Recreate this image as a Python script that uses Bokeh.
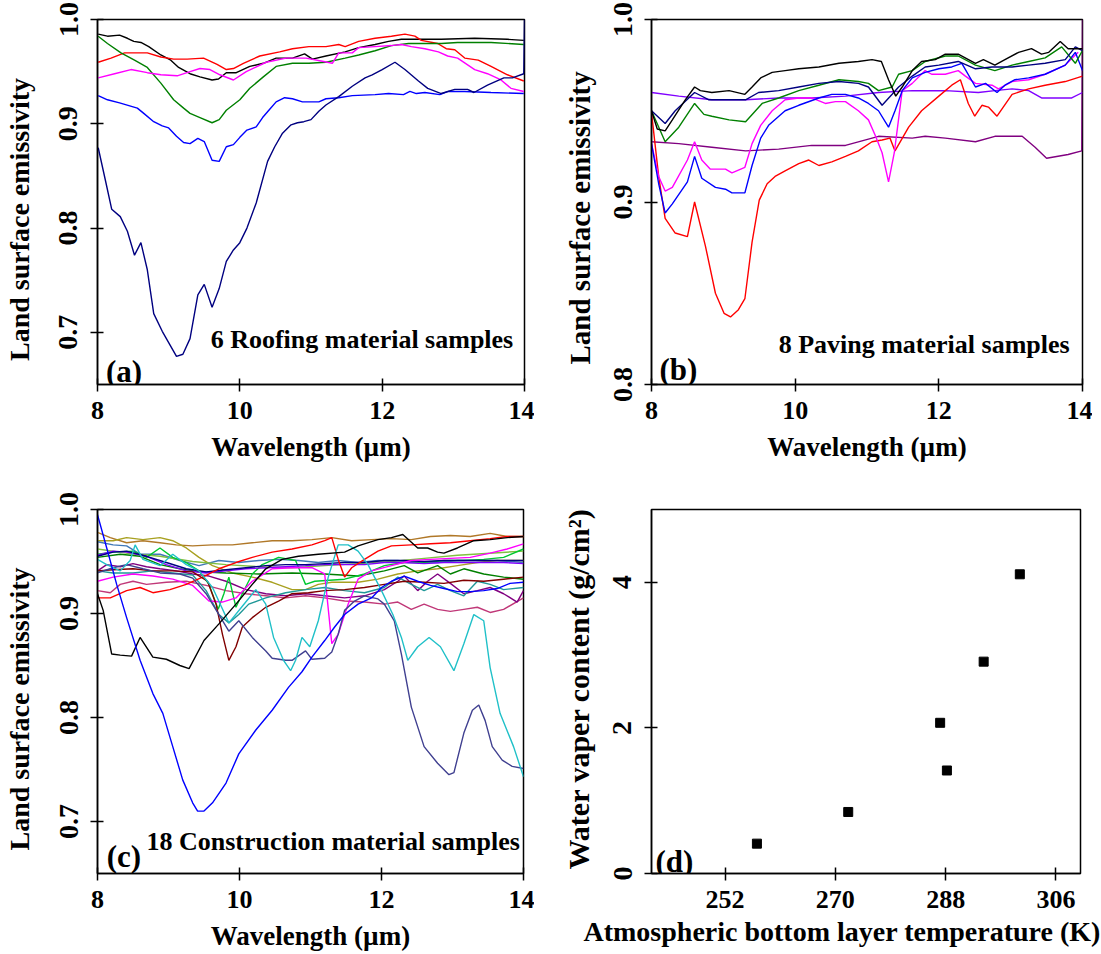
from bokeh.plotting import figure
from bokeh.layouts import column, row
from bokeh.models import Range1d, FixedTicker, Label, Title, PrintfTickFormatter
from bokeh.embed import file_html
from bokeh.resources import INLINE

FONT = "Liberation Serif"

# ---------------- Panel (a): 6 roofing material samples ----------------
a_black_x = [8.01, 8.14, 8.31, 8.42, 8.51, 8.61, 8.72, 8.89, 9.03, 9.14, 9.30, 9.44, 9.61, 9.70, 9.81, 9.95, 10.14, 10.33, 10.51, 10.74, 10.91, 11.02, 11.21, 11.48, 11.67, 11.90, 12.09, 12.27, 12.51, 12.83, 13.30, 13.76, 13.99]
a_black_y = [0.986, 0.984, 0.985, 0.982, 0.979, 0.978, 0.974, 0.966, 0.961, 0.954, 0.948, 0.945, 0.942, 0.943, 0.949, 0.949, 0.955, 0.958, 0.963, 0.963, 0.967, 0.962, 0.965, 0.969, 0.973, 0.976, 0.979, 0.981, 0.981, 0.981, 0.982, 0.981, 0.980]
a_red_x = [8.01, 8.19, 8.38, 8.52, 8.70, 8.89, 9.07, 9.26, 9.49, 9.68, 9.81, 9.91, 10.05, 10.28, 10.56, 10.74, 10.97, 11.21, 11.39, 11.48, 11.67, 11.90, 12.13, 12.32, 12.46, 12.55, 12.78, 12.90, 13.02, 13.16, 13.35, 13.53, 13.76, 13.99]
a_red_y = [0.959, 0.963, 0.968, 0.968, 0.968, 0.964, 0.962, 0.962, 0.963, 0.957, 0.952, 0.953, 0.958, 0.965, 0.969, 0.972, 0.974, 0.974, 0.976, 0.974, 0.979, 0.982, 0.984, 0.986, 0.984, 0.980, 0.977, 0.972, 0.971, 0.963, 0.961, 0.955, 0.947, 0.941]
a_green_x = [8.01, 8.14, 8.33, 8.52, 8.70, 8.89, 9.07, 9.21, 9.30, 9.44, 9.61, 9.71, 9.81, 10.00, 10.14, 10.33, 10.51, 10.74, 10.97, 11.21, 11.48, 11.67, 11.90, 12.13, 12.37, 12.60, 12.83, 13.06, 13.53, 13.99]
a_green_y = [0.984, 0.977, 0.968, 0.961, 0.954, 0.939, 0.923, 0.915, 0.910, 0.906, 0.901, 0.904, 0.913, 0.923, 0.934, 0.945, 0.955, 0.958, 0.958, 0.959, 0.963, 0.966, 0.970, 0.975, 0.977, 0.977, 0.977, 0.978, 0.978, 0.976]
a_magenta_x = [8.01, 8.24, 8.47, 8.70, 8.89, 9.12, 9.30, 9.44, 9.58, 9.72, 9.91, 10.09, 10.37, 10.65, 10.93, 11.16, 11.30, 11.39, 11.58, 11.67, 11.90, 12.13, 12.27, 12.41, 12.60, 12.79, 12.92, 13.06, 13.30, 13.48, 13.67, 13.81, 13.99]
a_magenta_y = [0.944, 0.948, 0.952, 0.949, 0.947, 0.946, 0.950, 0.953, 0.952, 0.947, 0.942, 0.950, 0.959, 0.963, 0.963, 0.960, 0.958, 0.968, 0.968, 0.973, 0.974, 0.975, 0.976, 0.974, 0.972, 0.969, 0.965, 0.963, 0.952, 0.948, 0.942, 0.934, 0.931]
a_blue_x = [8.01, 8.14, 8.31, 8.56, 8.65, 8.79, 8.91, 9.00, 9.11, 9.21, 9.30, 9.41, 9.50, 9.61, 9.71, 9.81, 9.91, 10.00, 10.10, 10.23, 10.32, 10.42, 10.51, 10.63, 10.74, 10.88, 11.11, 11.21, 11.39, 11.58, 11.90, 12.09, 12.30, 12.39, 12.48, 12.60, 12.81, 12.93, 13.16, 13.53, 13.99]
a_blue_y = [0.927, 0.923, 0.920, 0.915, 0.910, 0.902, 0.898, 0.896, 0.888, 0.882, 0.881, 0.886, 0.883, 0.865, 0.864, 0.878, 0.880, 0.887, 0.894, 0.897, 0.906, 0.914, 0.921, 0.925, 0.924, 0.921, 0.921, 0.924, 0.925, 0.927, 0.928, 0.929, 0.928, 0.931, 0.929, 0.930, 0.928, 0.931, 0.931, 0.930, 0.929]
a_navy_x = [8.01, 8.12, 8.20, 8.32, 8.42, 8.52, 8.61, 8.70, 8.79, 8.91, 9.11, 9.20, 9.30, 9.41, 9.50, 9.61, 9.71, 9.81, 9.91, 10.00, 10.10, 10.23, 10.39, 10.49, 10.60, 10.72, 10.81, 10.90, 11.00, 11.11, 11.21, 11.39, 11.58, 11.76, 11.86, 12.00, 12.18, 12.32, 12.51, 12.64, 12.83, 13.02, 13.20, 13.29, 13.48, 13.71, 13.83, 13.99, 14.0]
a_navy_y = [0.877, 0.843, 0.818, 0.811, 0.797, 0.774, 0.786, 0.760, 0.718, 0.701, 0.677, 0.679, 0.694, 0.736, 0.746, 0.724, 0.742, 0.768, 0.779, 0.786, 0.800, 0.824, 0.864, 0.878, 0.891, 0.899, 0.901, 0.902, 0.904, 0.912, 0.918, 0.926, 0.936, 0.944, 0.947, 0.952, 0.959, 0.952, 0.941, 0.934, 0.929, 0.933, 0.933, 0.930, 0.937, 0.944, 0.944, 0.948, 1.0]

# ---------------- Panel (b): 8 paving material samples ----------------
b_black_x = [8.00, 8.08, 8.19, 8.29, 8.47, 8.60, 8.68, 8.84, 9.08, 9.30, 9.40, 9.52, 9.68, 9.86, 10.05, 10.33, 10.61, 10.88, 11.07, 11.20, 11.30, 11.40, 11.49, 11.63, 11.76, 11.95, 12.09, 12.27, 12.51, 12.62, 12.78, 12.92, 13.11, 13.29, 13.43, 13.53, 13.69, 13.80, 13.94, 14.00]
b_black_y = [0.950, 0.940, 0.939, 0.945, 0.956, 0.963, 0.961, 0.960, 0.961, 0.959, 0.963, 0.968, 0.971, 0.972, 0.973, 0.974, 0.976, 0.977, 0.978, 0.977, 0.967, 0.958, 0.963, 0.972, 0.977, 0.978, 0.981, 0.981, 0.976, 0.978, 0.975, 0.978, 0.982, 0.984, 0.981, 0.982, 0.988, 0.984, 0.984, 0.984]
b_navy_x = [8.00, 8.19, 8.33, 8.60, 8.80, 9.08, 9.31, 9.49, 9.77, 10.05, 10.33, 10.61, 10.88, 11.02, 11.21, 11.35, 11.44, 11.63, 11.81, 12.00, 12.27, 12.51, 12.74, 13.02, 13.25, 13.48, 13.76, 13.90, 14.00]
b_navy_y = [0.950, 0.943, 0.950, 0.960, 0.956, 0.956, 0.956, 0.960, 0.961, 0.963, 0.965, 0.966, 0.965, 0.963, 0.953, 0.959, 0.963, 0.969, 0.974, 0.975, 0.977, 0.973, 0.974, 0.974, 0.975, 0.976, 0.978, 0.985, 0.983]
b_green_x = [8.00, 8.19, 8.38, 8.60, 8.73, 8.84, 9.08, 9.31, 9.54, 9.77, 10.05, 10.33, 10.61, 10.88, 11.02, 11.16, 11.35, 11.44, 11.63, 11.81, 12.09, 12.27, 12.51, 12.78, 13.02, 13.25, 13.48, 13.71, 13.90, 14.00]
b_green_y = [0.950, 0.933, 0.941, 0.954, 0.948, 0.947, 0.945, 0.944, 0.954, 0.957, 0.961, 0.964, 0.967, 0.966, 0.965, 0.961, 0.963, 0.970, 0.972, 0.977, 0.980, 0.980, 0.975, 0.972, 0.975, 0.977, 0.979, 0.985, 0.976, 0.983]
b_violet_x = [8.00, 8.38, 8.84, 9.31, 9.77, 10.23, 10.70, 11.16, 11.63, 12.09, 12.55, 12.78, 13.02, 13.25, 13.43, 13.67, 13.85, 14.00]
b_violet_y = [0.960, 0.958, 0.956, 0.956, 0.957, 0.957, 0.958, 0.960, 0.961, 0.961, 0.960, 0.961, 0.962, 0.961, 0.957, 0.957, 0.957, 0.960]
b_blue_x = [8.00, 8.10, 8.19, 8.29, 8.50, 8.60, 8.70, 8.89, 9.03, 9.12, 9.30, 9.40, 9.52, 9.63, 9.86, 10.05, 10.33, 10.51, 10.70, 10.88, 11.02, 11.16, 11.30, 11.39, 11.49, 11.63, 11.81, 12.00, 12.18, 12.32, 12.51, 12.65, 12.81, 12.92, 13.06, 13.25, 13.48, 13.76, 13.90, 14.00]
b_blue_y = [0.932, 0.910, 0.894, 0.899, 0.911, 0.925, 0.913, 0.908, 0.907, 0.905, 0.905, 0.920, 0.935, 0.942, 0.950, 0.953, 0.957, 0.959, 0.959, 0.957, 0.954, 0.950, 0.941, 0.950, 0.961, 0.968, 0.971, 0.973, 0.974, 0.976, 0.963, 0.965, 0.960, 0.964, 0.967, 0.968, 0.970, 0.975, 0.982, 0.972]
b_magenta_x = [8.00, 8.10, 8.19, 8.29, 8.50, 8.60, 8.70, 8.82, 9.03, 9.12, 9.30, 9.40, 9.52, 9.68, 9.86, 10.05, 10.23, 10.42, 10.56, 10.70, 10.88, 11.02, 11.12, 11.21, 11.30, 11.38, 11.49, 11.63, 11.81, 11.90, 12.09, 12.27, 12.37, 12.51, 12.74, 12.83, 13.02, 13.25, 13.48, 13.76, 13.94]
b_magenta_y = [0.932, 0.914, 0.906, 0.908, 0.923, 0.933, 0.923, 0.918, 0.918, 0.916, 0.919, 0.932, 0.942, 0.950, 0.956, 0.957, 0.957, 0.954, 0.955, 0.955, 0.950, 0.945, 0.936, 0.927, 0.911, 0.927, 0.961, 0.965, 0.972, 0.970, 0.970, 0.972, 0.969, 0.965, 0.964, 0.962, 0.966, 0.967, 0.970, 0.975, 0.982]
b_red_x = [8.00, 8.10, 8.19, 8.33, 8.50, 8.60, 8.75, 8.89, 9.01, 9.10, 9.21, 9.30, 9.40, 9.50, 9.61, 9.72, 9.86, 10.05, 10.19, 10.33, 10.51, 10.70, 10.88, 11.07, 11.21, 11.32, 11.39, 11.58, 11.76, 12.00, 12.18, 12.30, 12.41, 12.50, 12.60, 12.69, 12.81, 13.02, 13.25, 13.48, 13.76, 14.00]
b_red_y = [0.949, 0.914, 0.891, 0.883, 0.881, 0.900, 0.876, 0.850, 0.839, 0.837, 0.841, 0.847, 0.878, 0.901, 0.910, 0.914, 0.917, 0.921, 0.923, 0.920, 0.922, 0.925, 0.928, 0.933, 0.934, 0.935, 0.928, 0.941, 0.950, 0.958, 0.964, 0.967, 0.954, 0.947, 0.953, 0.952, 0.947, 0.959, 0.962, 0.964, 0.966, 0.969]
b_purple_x = [8.00, 8.38, 8.84, 9.31, 9.77, 10.23, 10.70, 11.16, 11.63, 11.81, 12.09, 12.51, 12.78, 13.16, 13.34, 13.50, 13.80, 13.99, 14.00]
b_purple_y = [0.933, 0.932, 0.930, 0.928, 0.929, 0.931, 0.931, 0.936, 0.935, 0.936, 0.935, 0.933, 0.936, 0.936, 0.930, 0.924, 0.926, 0.928, 1.000]

# ---------------- Panel (c): 18 construction material samples ----------------
c_blue_x = [8.00, 8.13, 8.27, 8.41, 8.60, 8.78, 8.92, 9.06, 9.20, 9.34, 9.41, 9.50, 9.62, 9.81, 9.99, 10.23, 10.46, 10.69, 10.88, 11.02, 11.20, 11.34, 11.48, 11.67, 11.86, 12.00, 12.14, 12.32, 12.51, 12.69, 12.88, 13.07, 13.25, 13.44, 13.63, 13.81, 14.00]
c_blue_y = [0.995, 0.963, 0.928, 0.896, 0.855, 0.823, 0.804, 0.772, 0.740, 0.718, 0.710, 0.710, 0.718, 0.737, 0.765, 0.788, 0.807, 0.829, 0.844, 0.858, 0.874, 0.887, 0.899, 0.909, 0.915, 0.925, 0.931, 0.936, 0.931, 0.927, 0.924, 0.921, 0.921, 0.922, 0.924, 0.929, 0.930]
c_black_x = [8.00, 8.08, 8.20, 8.32, 8.48, 8.60, 8.78, 8.97, 9.16, 9.29, 9.50, 9.71, 9.95, 10.18, 10.37, 10.60, 10.83, 11.11, 11.48, 11.67, 11.95, 12.14, 12.30, 12.51, 12.65, 12.79, 12.88, 13.07, 13.30, 13.53, 13.77, 14.00]
c_black_y = [0.919, 0.903, 0.861, 0.860, 0.859, 0.877, 0.858, 0.856, 0.850, 0.847, 0.874, 0.890, 0.909, 0.928, 0.943, 0.952, 0.955, 0.957, 0.959, 0.965, 0.971, 0.973, 0.976, 0.963, 0.963, 0.959, 0.958, 0.963, 0.970, 0.971, 0.973, 0.974]
c_slate_x = [8.00, 8.22, 8.41, 8.64, 8.88, 9.16, 9.34, 9.53, 9.71, 9.85, 9.99, 10.18, 10.37, 10.46, 10.65, 10.74, 10.93, 11.02, 11.20, 11.30, 11.39, 11.48, 11.62, 11.76, 11.95, 12.04, 12.18, 12.28, 12.42, 12.60, 12.79, 12.95, 13.02, 13.16, 13.28, 13.37, 13.46, 13.56, 13.70, 13.84, 14.00]
c_slate_y = [0.939, 0.944, 0.947, 0.943, 0.939, 0.938, 0.934, 0.919, 0.899, 0.883, 0.893, 0.877, 0.864, 0.857, 0.855, 0.855, 0.864, 0.856, 0.857, 0.863, 0.880, 0.903, 0.912, 0.917, 0.914, 0.909, 0.893, 0.861, 0.810, 0.772, 0.756, 0.745, 0.747, 0.785, 0.807, 0.812, 0.797, 0.772, 0.759, 0.753, 0.751]
c_cyan_x = [8.00, 8.13, 8.32, 8.46, 8.53, 8.64, 8.88, 9.06, 9.25, 9.43, 9.62, 9.85, 10.04, 10.23, 10.37, 10.48, 10.62, 10.72, 10.79, 10.88, 10.99, 11.11, 11.25, 11.39, 11.53, 11.67, 11.81, 12.00, 12.16, 12.28, 12.37, 12.51, 12.67, 12.83, 13.02, 13.16, 13.30, 13.44, 13.53, 13.67, 13.86, 14.00]
c_cyan_y = [0.952, 0.947, 0.941, 0.951, 0.966, 0.952, 0.946, 0.957, 0.947, 0.941, 0.925, 0.891, 0.907, 0.923, 0.909, 0.877, 0.855, 0.845, 0.855, 0.877, 0.868, 0.893, 0.935, 0.966, 0.966, 0.960, 0.947, 0.922, 0.899, 0.877, 0.855, 0.868, 0.877, 0.868, 0.845, 0.871, 0.899, 0.893, 0.848, 0.804, 0.772, 0.743]
c_maroon_x = [8.00, 8.22, 8.50, 8.78, 9.06, 9.34, 9.55, 9.67, 9.76, 9.85, 9.95, 10.04, 10.18, 10.37, 10.55, 10.74, 10.97, 11.20, 11.48, 11.76, 12.04, 12.32, 12.60, 12.88, 13.16, 13.44, 13.72, 14.00]
c_maroon_y = [0.941, 0.942, 0.943, 0.941, 0.941, 0.940, 0.931, 0.909, 0.880, 0.855, 0.868, 0.887, 0.896, 0.906, 0.912, 0.919, 0.920, 0.922, 0.923, 0.925, 0.928, 0.931, 0.930, 0.929, 0.932, 0.931, 0.933, 0.935]
c_red_x = [8.00, 8.18, 8.41, 8.60, 8.78, 9.02, 9.25, 9.48, 9.71, 9.95, 10.18, 10.46, 10.74, 11.02, 11.20, 11.30, 11.39, 11.48, 11.58, 11.76, 11.95, 12.14, 12.42, 12.69, 12.97, 13.25, 13.53, 13.77, 14.00]
c_red_y = [0.915, 0.915, 0.922, 0.925, 0.920, 0.923, 0.928, 0.935, 0.943, 0.949, 0.954, 0.959, 0.962, 0.966, 0.970, 0.973, 0.952, 0.935, 0.944, 0.952, 0.960, 0.965, 0.966, 0.967, 0.968, 0.970, 0.972, 0.974, 0.974]
c_magenta_x = [8.00, 8.22, 8.50, 8.78, 9.06, 9.34, 9.57, 9.76, 9.95, 10.18, 10.46, 10.74, 11.02, 11.20, 11.30, 11.39, 11.53, 11.67, 11.86, 12.14, 12.42, 12.69, 12.97, 13.25, 13.53, 13.77, 14.00]
c_magenta_y = [0.931, 0.935, 0.938, 0.936, 0.933, 0.927, 0.912, 0.911, 0.915, 0.931, 0.943, 0.944, 0.944, 0.938, 0.871, 0.880, 0.909, 0.933, 0.941, 0.946, 0.951, 0.952, 0.953, 0.954, 0.958, 0.962, 0.967]
c_lime_x = [8.00, 8.22, 8.50, 8.69, 8.88, 9.06, 9.25, 9.43, 9.57, 9.70, 9.78, 9.85, 9.95, 10.04, 10.18, 10.32, 10.55, 10.79, 10.93, 11.06, 11.48, 11.76, 12.04, 12.32, 12.60, 12.88, 13.16, 13.44, 13.72, 14.00]
c_lime_y = [0.957, 0.959, 0.960, 0.954, 0.963, 0.954, 0.949, 0.941, 0.928, 0.904, 0.919, 0.935, 0.906, 0.919, 0.938, 0.947, 0.954, 0.951, 0.928, 0.931, 0.933, 0.938, 0.946, 0.949, 0.949, 0.951, 0.951, 0.952, 0.954, 0.962]
c_dgreen_x = [8.00, 8.32, 8.60, 8.88, 9.16, 9.43, 9.81, 10.27, 10.74, 11.20, 11.67, 12.04, 12.32, 12.51, 12.79, 12.97, 13.16, 13.44, 13.72, 14.00]
c_dgreen_y = [0.954, 0.957, 0.955, 0.947, 0.943, 0.940, 0.939, 0.938, 0.939, 0.938, 0.936, 0.941, 0.946, 0.939, 0.946, 0.938, 0.943, 0.938, 0.935, 0.933]
c_brown_x = [8.00, 8.18, 8.41, 8.64, 8.88, 9.11, 9.34, 9.62, 9.90, 10.18, 10.46, 10.74, 11.02, 11.30, 11.58, 11.86, 12.14, 12.42, 12.69, 12.97, 13.25, 13.53, 13.77, 14.00]
c_brown_y = [0.978, 0.973, 0.968, 0.970, 0.968, 0.966, 0.965, 0.966, 0.966, 0.968, 0.970, 0.970, 0.971, 0.973, 0.970, 0.971, 0.972, 0.971, 0.974, 0.975, 0.974, 0.977, 0.974, 0.974]
c_olive_x = [8.00, 8.22, 8.41, 8.64, 8.88, 9.06, 9.25, 9.43, 9.62, 9.90, 10.18, 10.46, 10.74, 10.93, 11.11, 11.30, 11.48, 11.67, 11.95, 12.23, 12.51, 12.79, 13.07, 13.35, 13.63, 14.00]
c_olive_y = [0.970, 0.970, 0.973, 0.971, 0.973, 0.970, 0.963, 0.954, 0.946, 0.939, 0.935, 0.930, 0.923, 0.923, 0.928, 0.930, 0.930, 0.930, 0.933, 0.938, 0.941, 0.943, 0.946, 0.949, 0.951, 0.951]
c_purple_x = [8.00, 8.13, 8.32, 8.50, 8.69, 8.88, 9.11, 9.34, 9.57, 9.81, 10.09, 10.37, 10.65, 10.93, 11.20, 11.48, 11.76, 12.04, 12.23, 12.32, 12.51, 12.65, 12.79, 12.97, 13.16, 13.35, 13.53, 13.72, 13.91, 14.00]
c_purple_y = [0.941, 0.947, 0.945, 0.948, 0.945, 0.943, 0.941, 0.938, 0.936, 0.931, 0.923, 0.919, 0.917, 0.919, 0.917, 0.915, 0.917, 0.923, 0.931, 0.936, 0.922, 0.931, 0.938, 0.929, 0.919, 0.922, 0.925, 0.919, 0.911, 0.922]
c_rose_x = [8.00, 8.18, 8.32, 8.50, 8.69, 8.97, 9.25, 9.53, 9.81, 10.09, 10.37, 10.65, 10.93, 11.20, 11.48, 11.76, 12.04, 12.23, 12.42, 12.60, 12.79, 12.97, 13.16, 13.35, 13.53, 13.72, 14.00]
c_rose_y = [0.922, 0.920, 0.928, 0.931, 0.928, 0.930, 0.931, 0.927, 0.922, 0.919, 0.917, 0.915, 0.917, 0.915, 0.912, 0.911, 0.909, 0.911, 0.904, 0.909, 0.904, 0.902, 0.904, 0.906, 0.901, 0.904, 0.915]
c_steel_x = [8.00, 8.22, 8.41, 8.60, 8.88, 9.16, 9.43, 9.71, 9.99, 10.27, 10.55, 10.83, 11.11, 11.39, 11.67, 11.95, 12.23, 12.51, 12.79, 13.07, 13.35, 13.63, 14.00]
c_steel_y = [0.969, 0.966, 0.965, 0.957, 0.957, 0.951, 0.946, 0.951, 0.949, 0.951, 0.952, 0.951, 0.949, 0.951, 0.949, 0.951, 0.951, 0.949, 0.949, 0.951, 0.951, 0.951, 0.949]
c_teal_x = [8.00, 8.22, 8.50, 8.78, 9.06, 9.34, 9.53, 9.71, 9.85, 9.99, 10.13, 10.37, 10.65, 10.93, 11.20, 11.48, 11.76, 12.04, 12.23, 12.42, 12.60, 12.79, 12.97, 13.16, 13.35, 13.53, 13.72, 14.00]
c_teal_y = [0.941, 0.939, 0.939, 0.941, 0.939, 0.937, 0.922, 0.899, 0.891, 0.899, 0.909, 0.915, 0.920, 0.923, 0.925, 0.922, 0.920, 0.925, 0.935, 0.928, 0.922, 0.928, 0.922, 0.917, 0.931, 0.928, 0.923, 0.925]
c_violet_x = [8.00, 8.22, 8.41, 8.69, 8.97, 9.25, 9.53, 9.81, 10.09, 10.37, 10.65, 10.93, 11.20, 11.48, 11.76, 12.04, 12.32, 12.60, 12.88, 13.16, 13.44, 13.72, 14.00]
c_violet_y = [0.956, 0.960, 0.959, 0.955, 0.947, 0.941, 0.939, 0.941, 0.943, 0.944, 0.945, 0.946, 0.947, 0.947, 0.947, 0.949, 0.949, 0.948, 0.949, 0.949, 0.949, 0.949, 0.948]
c_navy_x = [8.00, 8.22, 8.41, 8.69, 8.97, 9.25, 9.53, 9.81, 10.09, 10.37, 10.65, 10.93, 11.20, 11.48, 11.76, 12.04, 12.32, 12.60, 12.88, 13.16, 13.44, 13.72, 14.00]
c_navy_y = [0.955, 0.959, 0.960, 0.955, 0.949, 0.943, 0.940, 0.942, 0.944, 0.946, 0.947, 0.947, 0.948, 0.949, 0.949, 0.951, 0.951, 0.950, 0.951, 0.951, 0.951, 0.951, 0.951]
c_ygreen_x = [8.00, 8.41, 8.88, 9.34, 9.81, 10.27, 10.74, 11.20, 11.67, 12.14, 12.60, 13.07, 13.53, 14.00]
c_ygreen_y = [0.962, 0.958, 0.955, 0.950, 0.947, 0.945, 0.944, 0.946, 0.948, 0.950, 0.953, 0.956, 0.958, 0.960]

# ---------------- Panel (d): water vapour vs temperature ----------------
d_temp = [257.2, 272.1, 287.1, 288.2, 294.2, 300.1]
d_wvc = [0.41, 0.845, 2.07, 1.415, 2.91, 4.11]

# tick labels
wl_ticks = [8, 10, 12, 14]
ac_yticks = [0.7, 0.8, 0.9, 1.0]
b_yticks = [0.8, 0.9, 1.0]
d_xticks = [252, 270, 288, 306]
d_yticks = [0, 2, 4]

series_a = [
    (a_black_x, a_black_y, "#000000"), (a_red_x, a_red_y, "#ff0000"),
    (a_green_x, a_green_y, "#008000"), (a_magenta_x, a_magenta_y, "#ff00ff"),
    (a_blue_x, a_blue_y, "#0000ff"), (a_navy_x, a_navy_y, "#000080"),
]
series_b = [
    (b_purple_x, b_purple_y, "#800080"), (b_violet_x, b_violet_y, "#8000ff"),
    (b_red_x, b_red_y, "#ff0000"), (b_magenta_x, b_magenta_y, "#ff00ff"),
    (b_blue_x, b_blue_y, "#0000ff"), (b_green_x, b_green_y, "#008000"),
    (b_navy_x, b_navy_y, "#000080"), (b_black_x, b_black_y, "#000000"),
]
series_c = [
    (c_brown_x, c_brown_y, "#b07828"), (c_olive_x, c_olive_y, "#a8a020"),
    (c_steel_x, c_steel_y, "#4078b8"), (c_ygreen_x, c_ygreen_y, "#80c040"),
    (c_rose_x, c_rose_y, "#c03878"), (c_purple_x, c_purple_y, "#800080"),
    (c_teal_x, c_teal_y, "#209898"), (c_dgreen_x, c_dgreen_y, "#008000"),
    (c_lime_x, c_lime_y, "#00c830"), (c_violet_x, c_violet_y, "#8000ff"),
    (c_navy_x, c_navy_y, "#000080"), (c_magenta_x, c_magenta_y, "#ff00ff"),
    (c_red_x, c_red_y, "#ff0000"), (c_maroon_x, c_maroon_y, "#800000"),
    (c_slate_x, c_slate_y, "#404090"), (c_cyan_x, c_cyan_y, "#20c0c8"),
    (c_black_x, c_black_y, "#000000"), (c_blue_x, c_blue_y, "#0000ff"),
]


def style_axis(ax, ticks, fmt=None, tick_size="26px", label_size="27px"):
    ax.ticker = FixedTicker(ticks=ticks)
    if fmt:
        ax.formatter = PrintfTickFormatter(format=fmt)
    ax.axis_line_color = "black"
    ax.axis_line_width = 1.5
    ax.major_tick_line_color = "black"
    ax.major_tick_line_width = 1.5
    ax.major_tick_in = 6
    ax.major_tick_out = 7
    ax.minor_tick_line_color = None
    ax.major_label_text_font = FONT
    ax.major_label_text_font_size = tick_size
    ax.major_label_text_font_style = "bold"
    ax.major_label_text_color = "black"
    ax.axis_label_text_font = FONT
    ax.axis_label_text_font_size = label_size
    ax.axis_label_text_font_style = "bold"
    ax.axis_label_text_color = "black"


def make_fig(w, h, bl, br, bt, bb, xr, yr):
    p = figure(width=w, height=h, x_range=Range1d(*xr), y_range=Range1d(*yr),
               output_backend="svg", toolbar_location=None,
               min_border_left=bl, min_border_right=br,
               min_border_top=bt, min_border_bottom=bb)
    p.grid.visible = False
    p.outline_line_color = "black"
    p.outline_line_width = 1.5
    p.background_fill_color = "white"
    p.border_fill_color = "white"
    return p


def add_label(p, x, y, text, size="26px"):
    p.add_layout(Label(x=x, y=y, text=text, text_font=FONT, text_font_size=size,
                       text_font_style="bold", text_color="black",
                       text_baseline="alphabetic", text_align="left"))


def add_ylabel(p, text, size, standoff, offset):
    # vertical axis title; starts `offset` px above the bottom of the frame
    p.add_layout(Title(text=text, align="left", offset=offset, text_font=FONT,
                       text_font_size=size, text_font_style="bold", text_color="black",
                       standoff=standoff), "left")


YLAB = "Land surface emissivity"
# trailing no-break spaces nudge the centred axis title down a little, as in the original
YLAB_PADDED = YLAB + "\u00a0" * 5


def spectral_panel(series, yr, yticks, w, bl, br, h, bt, bb, own_ylabel):
    p = make_fig(w, h, bl, br, bt, bb, (8, 14), yr)
    for xs, ys, c in series:
        p.line(xs, ys, line_color=c, line_width=1.4)
    style_axis(p.xaxis[0], wl_ticks)
    style_axis(p.yaxis[0], yticks, "%.1f", tick_size="28px", label_size="28px")
    p.xaxis[0].axis_label = "Wavelength (µm)"
    p.yaxis[0].major_label_orientation = "parallel"
    p.xaxis[0].major_label_standoff = 10
    p.xaxis[0].axis_label_standoff = 10
    p.yaxis[0].major_label_standoff = 13
    if own_ylabel:
        p.yaxis[0].axis_label = YLAB_PADDED
        p.yaxis[0].axis_label_standoff = 22
    return p


# row 1: frame top at 19, height 365; row 2: frame top at 509
pa = spectral_panel(series_a, (0.65, 1.0), ac_yticks, 534, 93, 10, 474, 19, 90, True)
add_label(pa, 8.12, 0.662, "(a)", "31px")
add_label(pa, 9.59, 0.693, "6 Roofing material samples")

pb = spectral_panel(series_b, (0.8, 1.0), b_yticks, 558, 117, 10, 474, 19, 90, False)
add_ylabel(pb, YLAB, "29px", 30, 20)
add_label(pb, 8.11, 0.808, "(b)", "31px")
add_label(pb, 9.77, 0.822, "8 Paving material samples")

pc = spectral_panel(series_c, (0.65, 1.0), ac_yticks, 534, 94, 11, 479, 35, 79, True)
add_label(pc, 8.13, 0.666, "(c)", "31px")
add_label(pc, 8.69, 0.681, "18 Construction material samples")

pd = make_fig(566, 479, 117, 20, 35, 79, (240, 310), (0, 5))
pd.scatter(d_temp, d_wvc, marker="square", size=9, fill_color="black", line_color="black")
style_axis(pd.xaxis[0], d_xticks)
style_axis(pd.yaxis[0], d_yticks, tick_size="28px", label_size="28px")
pd.yaxis[0].major_label_orientation = "parallel"
pd.yaxis[0].major_label_standoff = 13
add_ylabel(pd, "Water vaper content (g/cm²)", "30px", 32, 4)
pd.xaxis[0].major_label_standoff = 10
pd.add_layout(Title(text="Atmospheric bottom layer temperature (K)", align="left", offset=-68,
                    text_font=FONT, text_font_size="28px", text_font_style="bold",
                    text_color="black", standoff=7), "below")
add_label(pd, 240.65, 0.164, "(d)", "31px")

layout = column(row(pa, pb), row(pc, pd))
open("out.html", "w").write(file_html(layout, INLINE))
